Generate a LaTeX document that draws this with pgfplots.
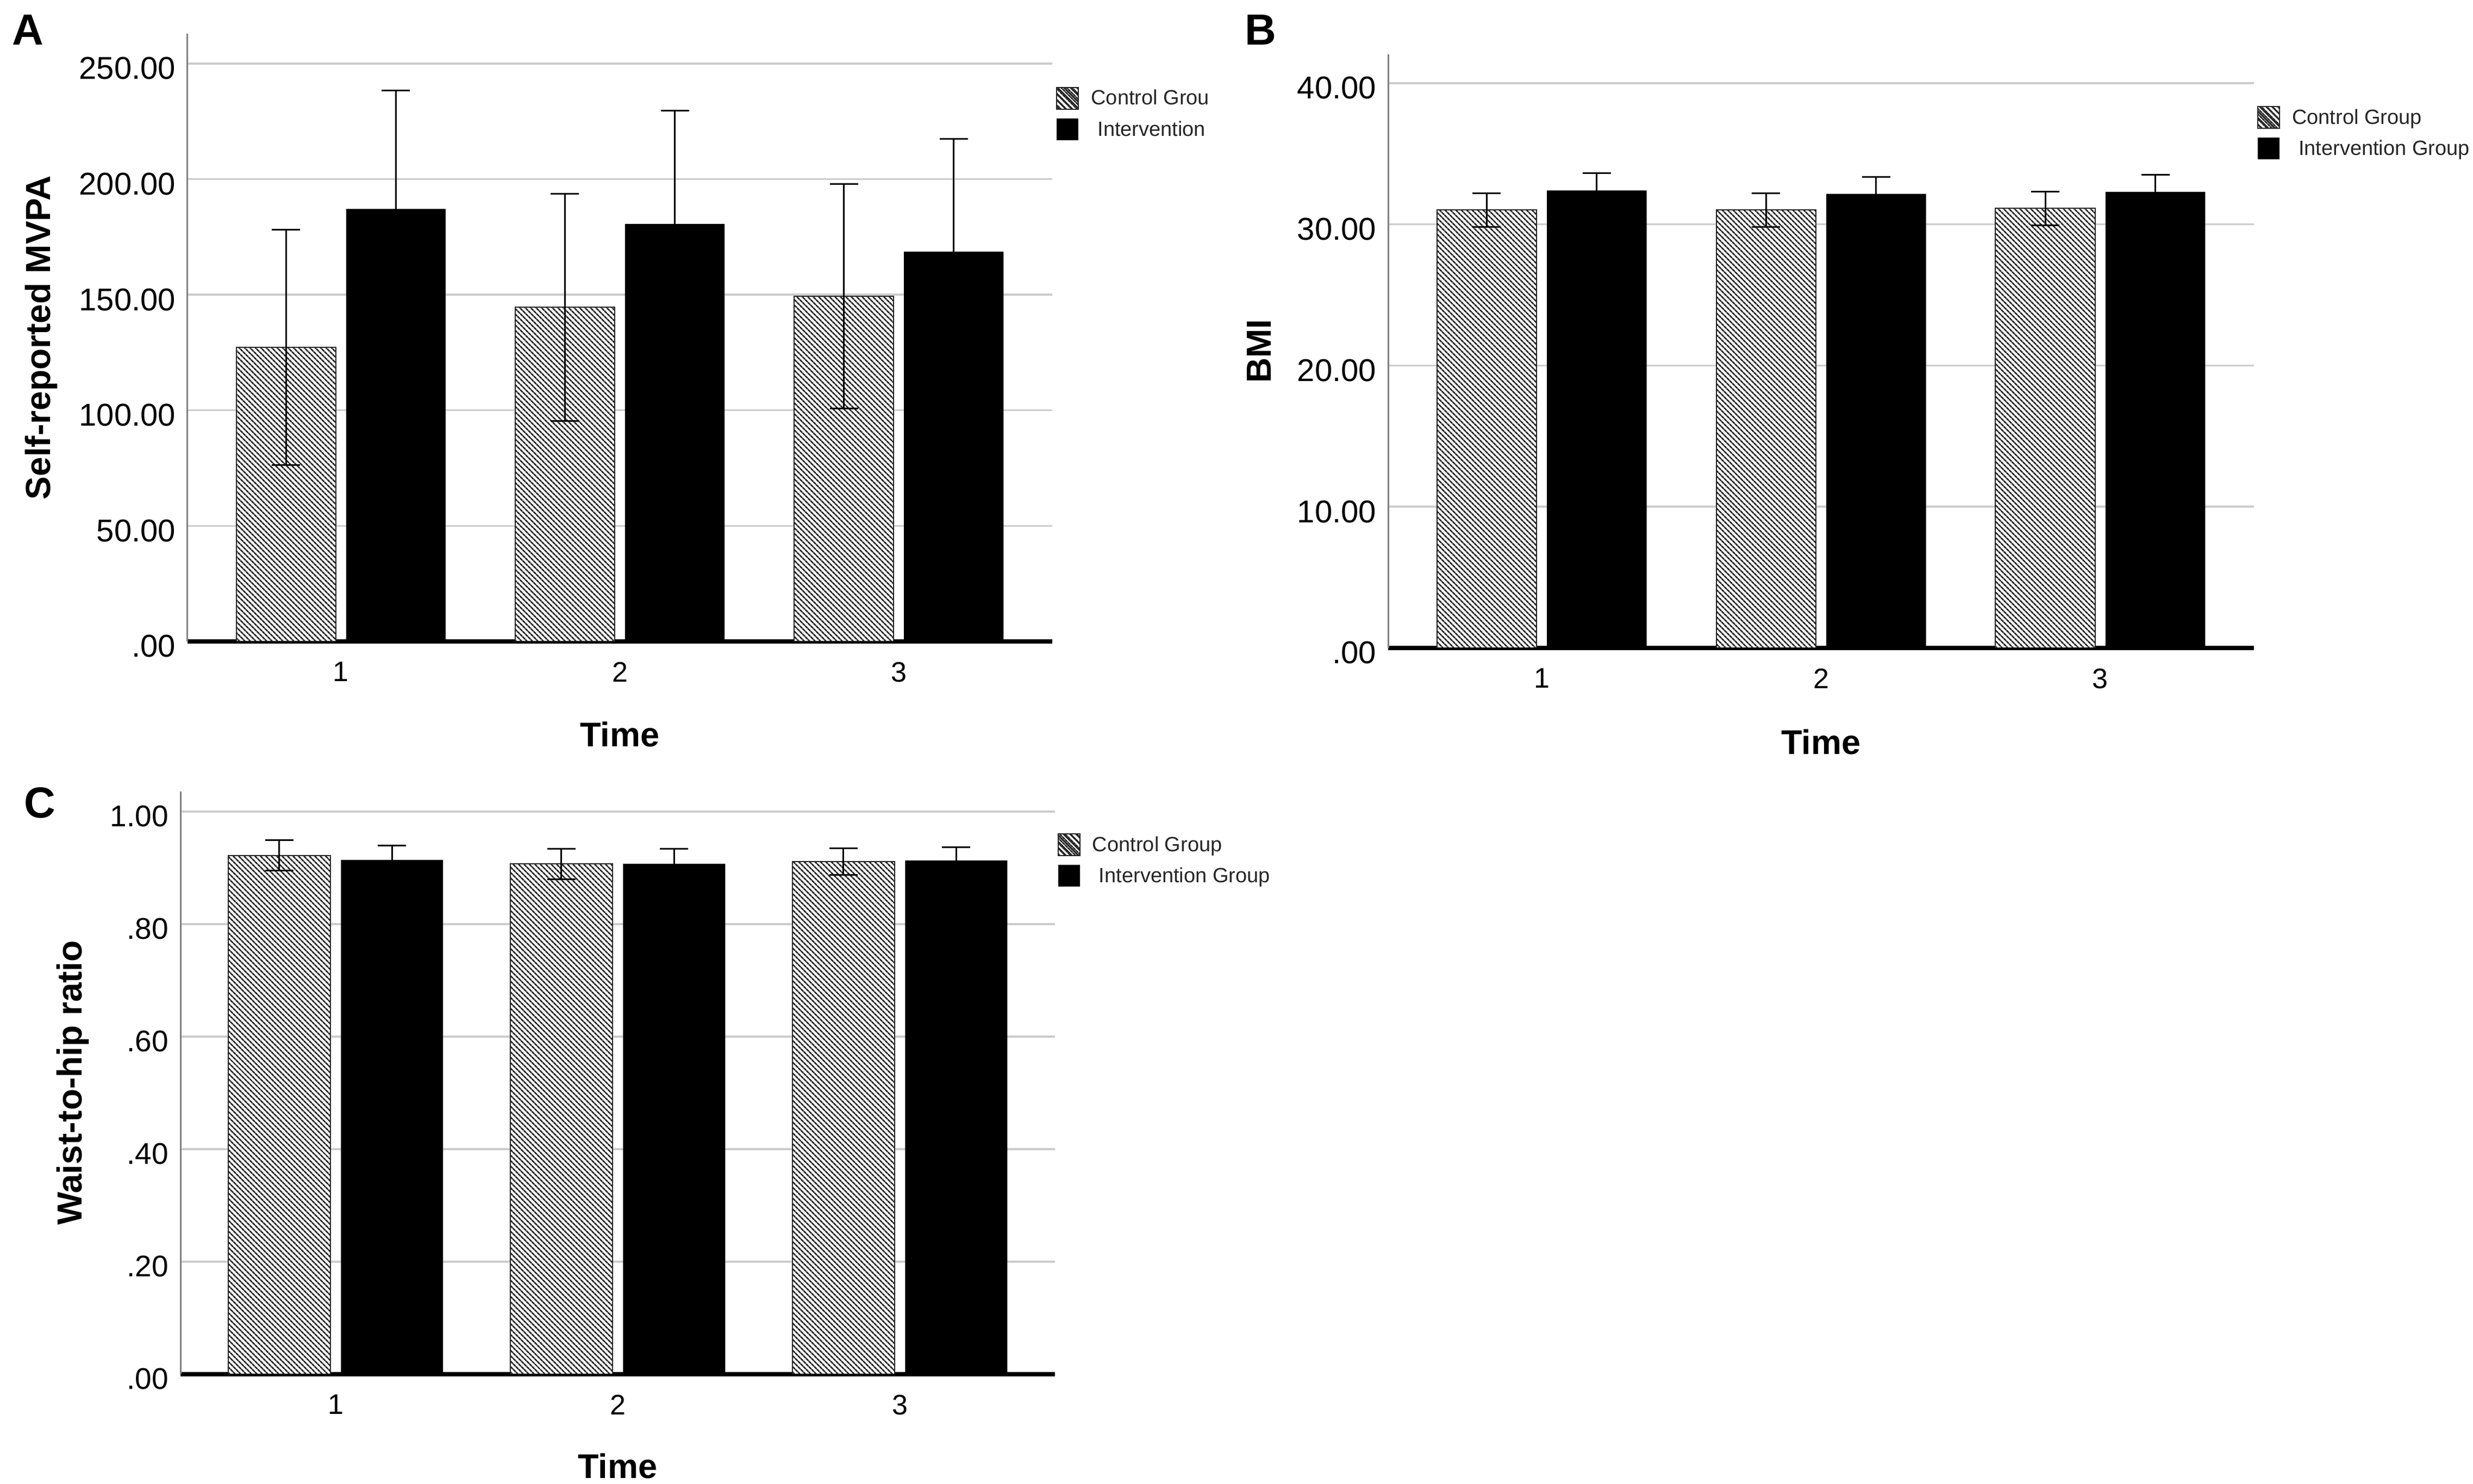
\documentclass[border=0pt]{standalone}
\usepackage{fontspec}
\setmainfont{Liberation Sans}
\usepackage{pgfplots}
\usepackage{pgfplotstable}
\pgfplotsset{compat=1.18}
\usetikzlibrary{patterns.meta}

\pgfplotstableread{
x  y      e
1  127.3  50.9
2  144.5  49.2
3  149.3  48.5
}\Actrl
\pgfplotstableread{
x  y      e
1  187.1  51.2
2  180.6  49.1
3  168.6  48.7
}\Aint
\pgfplotstableread{
x  y      e
1  31.02  1.20
2  31.02  1.20
3  31.13  1.20
}\Bctrl
\pgfplotstableread{
x  y      e
1  32.40  1.24
2  32.16  1.20
3  32.30  1.23
}\Bint
\pgfplotstableread{
x  y      e
1  0.922  0.027
2  0.907  0.027
3  0.911  0.024
}\Cctrl
\pgfplotstableread{
x  y      e
1  0.914  0.026
2  0.907  0.027
3  0.913  0.024
}\Cint

\pgfplotsset{
  panel/.style={
    scale only axis, anchor=south west,
    axis lines=left, axis line style={-},
    x axis line style={black, line width=0.8pt},
    y axis line style={black!50, line width=0.3pt},
    ymajorgrids, grid style={black!20, line width=0.35pt},
    major tick length=0pt, tick style={draw=none},
    xmin=0.45, xmax=3.55, ymin=0,
    xtick={1,2,3}, xticklabels={1,2,3},
    xticklabel style={font=\fontsize{5.2}{6}\selectfont, inner sep=0pt, anchor=north, yshift=-3.6pt},
    yticklabel style={font=\fontsize{5.8}{6}\selectfont, inner sep=0pt, anchor=east, xshift=-2pt, yshift=-0.9pt},
    xlabel={Time},
    xlabel style={font=\bfseries\fontsize{6.3}{7}\selectfont, inner sep=0pt, anchor=north},
    ylabel style={font=\bfseries\fontsize{6.4}{7}\selectfont, inner sep=0pt, anchor=base},
    legend cell align=left,
    legend style={draw=none, fill=none, inner sep=0pt, outer sep=0pt, anchor=north west,
      font=\fontsize{3.8}{4}\selectfont, text=black!85, row sep=1pt, column sep=2.2pt,
      nodes={inner sep=0pt}},
  },
  ctrlbar/.style={ybar, bar width=0.357, bar shift=0pt, fill=white, draw=black!85, line width=0.2pt,
    postaction={pattern color=black!85, pattern={Lines[angle=-45,distance=0.68pt,line width=0.3pt]}},
    error bars/y dir=both, error bars/y explicit,
    error bars/error bar style={black, line width=0.3pt, solid},
    error bars/error mark options={rotate=90, mark size=2.6pt, line width=0.3pt, black, solid}},
  intbar/.style={ybar, bar width=0.357, bar shift=0pt, fill=black, draw=none,
    error bars/y dir=both, error bars/y explicit,
    error bars/error bar style={black, line width=0.3pt},
    error bars/error mark options={rotate=90, mark size=2.6pt, line width=0.3pt, black}},
  ctrlleg/.style={legend image code/.code={\draw[black!85, line width=0.2pt, fill=white,
      postaction={pattern color=black!85, pattern={Lines[angle=-45,distance=0.9pt,line width=0.35pt]}}]
      (0pt,-1.4pt) rectangle (4pt,2.6pt);}},
  intleg/.style={legend image code/.code={\fill[black] (0pt,-1.4pt) rectangle (4pt,2.6pt);}},
}

\begin{document}
\begin{tikzpicture}
\path[use as bounding box] (0pt,0pt) rectangle (455pt,273pt);

% Panel A
\begin{axis}[panel, at={(34.5pt,155.0pt)}, width=159.1pt, height=111.8pt,
  ymax=262.9, ytick={0,50,100,150,200,250},
  yticklabels={.00,50.00,100.00,150.00,200.00,250.00},
  ylabel={Self-reported MVPA},
  ylabel style={at={(axis description cs:-0.159,0.5)}},
  xlabel style={at={(axis description cs:0.5,-0.1305)}},
  legend style={at={(axis description cs:1.0038,0.9133)}}]
\addplot[ctrlbar, ctrlleg] table[x expr=\thisrow{x}-0.197, y=y, y error=e] {\Actrl};
\addplot[intbar, intleg] table[x expr=\thisrow{x}+0.197, y=y, y error=e] {\Aint};
\legend{Control Grou, \hspace{1.2pt}Intervention}
\end{axis}

% Panel B
\begin{axis}[panel, at={(255.4pt,153.8pt)}, width=159.3pt, height=109.2pt,
  ymax=42.04, ytick={0,10,20,30,40},
  yticklabels={.00,10.00,20.00,30.00,40.00},
  ylabel={BMI},
  ylabel style={at={(axis description cs:-0.1356,0.5)}},
  xlabel style={at={(axis description cs:0.5,-0.1355)}},
  legend style={at={(axis description cs:1.0038,0.913)}}]
\addplot[ctrlbar, ctrlleg] table[x expr=\thisrow{x}-0.197, y=y, y error=e] {\Bctrl};
\addplot[intbar, intleg] table[x expr=\thisrow{x}+0.197, y=y, y error=e] {\Bint};
\legend{Control Group, \hspace{1.2pt}Intervention Group}
\end{axis}

% Panel C
\begin{axis}[panel, at={(33.2pt,20.2pt)}, width=160.9pt, height=107.2pt,
  ymax=1.0357, ytick={0,0.2,0.4,0.6,0.8,1.0},
  yticklabels={.00,.20,.40,.60,.80,1.00},
  yticklabel style={font=\fontsize{5.5}{6}\selectfont},
  ylabel={Waist-to-hip ratio},
  ylabel style={at={(axis description cs:-0.1125,0.5)}},
  xlabel style={at={(axis description cs:0.5,-0.1343)}},
  legend style={at={(axis description cs:1.0031,0.928)}}]
\addplot[ctrlbar, ctrlleg, bar width=0.362] table[x expr=\thisrow{x}-0.2, y=y, y error=e] {\Cctrl};
\addplot[intbar, intleg, bar width=0.362] table[x expr=\thisrow{x}+0.2, y=y, y error=e] {\Cint};
\legend{Control Group, \hspace{1.2pt}Intervention Group}
\end{axis}

\node[anchor=north west, inner sep=0pt, font=\bfseries\fontsize{8}{9}\selectfont] at (2.0pt,270.5pt) {A};
\node[anchor=north west, inner sep=0pt, font=\bfseries\fontsize{8}{9}\selectfont] at (228.8pt,270.5pt) {B};
\node[anchor=north west, inner sep=0pt, font=\bfseries\fontsize{8}{9}\selectfont] at (4.2pt,128.3pt) {C};
\end{tikzpicture}
\end{document}
